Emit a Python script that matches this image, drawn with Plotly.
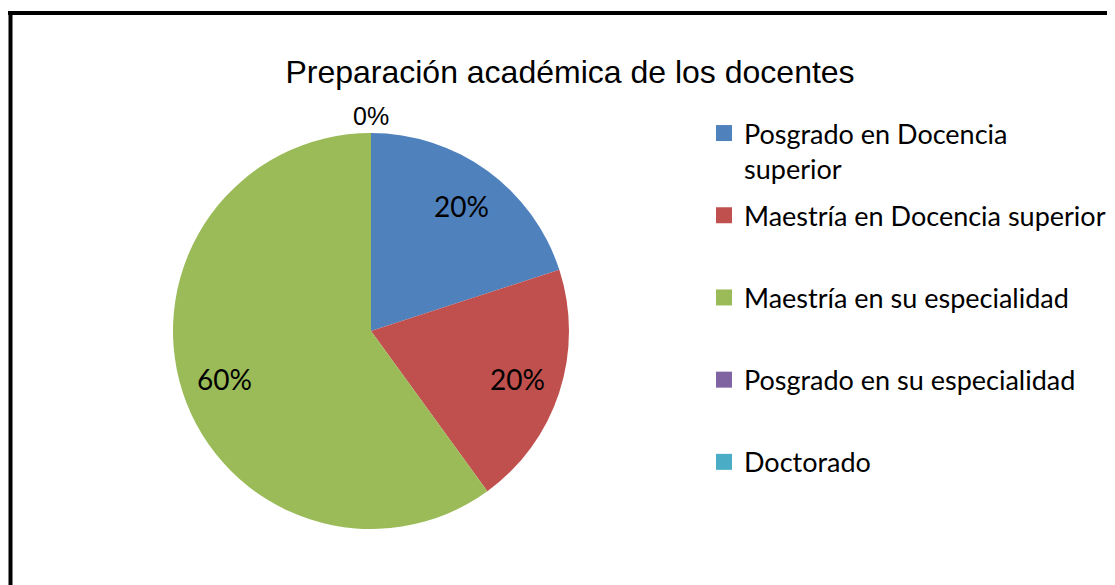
import math
import plotly.graph_objects as go

categories = ["Posgrado en Docencia superior", "Maestría en Docencia superior",
              "Maestría en su especialidad", "Posgrado en su especialidad", "Doctorado"]
legend_labels = ["Posgrado en Docencia<br>superior", "Maestría en Docencia superior<br> ",
                 "Maestría en su especialidad<br> ", "Posgrado en su especialidad<br> ",
                 "Doctorado<br> "]
values = [20, 20, 60, 0, 0]
colors = ["#4F81BD", "#C0504D", "#9BBB59", "#8064A2", "#4BACC6"]
title_text = "Preparación académica de los docentes"

# page body has an 8px margin: figure sized to the visible area
OFF = 8
W, H = 1115 - OFF, 585 - OFF


def px(rx):
    return (rx - OFF) / W


def py(ry):
    return 1 - (ry - OFF) / H


# pie geometry (reference pixels)
CX, CY, R = 371, 331, 198

fig = go.Figure()
fig.add_trace(go.Pie(
    labels=categories,
    values=values,
    marker=dict(colors=colors, line=dict(width=0)),
    sort=False,
    direction="clockwise",
    rotation=0,
    textinfo="none",
    showlegend=False,
    domain=dict(x=[px(CX - R), px(CX + R)], y=[py(CY + R), py(CY - R)]),
    hoverinfo="label+percent",
))

# legend entries (one group per category so spacing can be set)
for lab, col in zip(legend_labels, colors):
    fig.add_trace(go.Scatter(
        x=[None], y=[None], mode="markers", name=lab, legendgroup=lab,
        marker=dict(symbol="square", size=17, color=col, line=dict(width=0)),
        showlegend=True, hoverinfo="skip",
    ))

# percentage labels computed from the values
total = sum(values)
cum = 0
for v in values:
    if v > 0:
        f = (cum + v / 2) / total
        th = 2 * math.pi * f
        lx = CX + 0.78 * R * math.sin(th)
        ly = CY - 0.78 * R * math.cos(th)
        fig.add_annotation(
            x=px(lx), y=py(ly), xref="paper", yref="paper",
            text=f"{round(100 * v / total)}%", showarrow=False,
            font=dict(family="Lato", size=28, color="black"),
            xanchor="center", yanchor="middle",
        )
    cum += v

zero_text = "0%" if any(v == 0 for v in values) else ""
fig.add_annotation(
    x=px(CX), y=py(116), xref="paper", yref="paper",
    text=zero_text, showarrow=False,
    font=dict(family="Liberation Sans", size=25, color="black"),
    xanchor="center", yanchor="middle",
)

fig.update_layout(
    width=W, height=H,
    margin=dict(l=0, r=0, t=0, b=0),
    paper_bgcolor="white",
    plot_bgcolor="white",
    xaxis=dict(visible=False),
    yaxis=dict(visible=False),
    title=dict(text=title_text, x=px(570), y=py(72), xanchor="center", yanchor="middle",
               font=dict(family="Liberation Sans", size=32, color="black")),
    legend=dict(
        x=px(704), y=py(109), xanchor="left", yanchor="top",
        font=dict(family="Lato", size=27, color="black"),
        valign="top",
        traceorder="grouped",
        tracegroupgap=9,
        bgcolor="rgba(0,0,0,0)",
    ),
    shapes=[
        dict(type="line", xref="paper", yref="paper", x0=px(8), x1=1, y0=py(13), y1=py(13),
             line=dict(color="black", width=4)),
        dict(type="line", xref="paper", yref="paper", x0=px(10.5), x1=px(10.5), y0=0, y1=py(11),
             line=dict(color="black", width=4)),
    ],
)

fig.write_html("out.html")
